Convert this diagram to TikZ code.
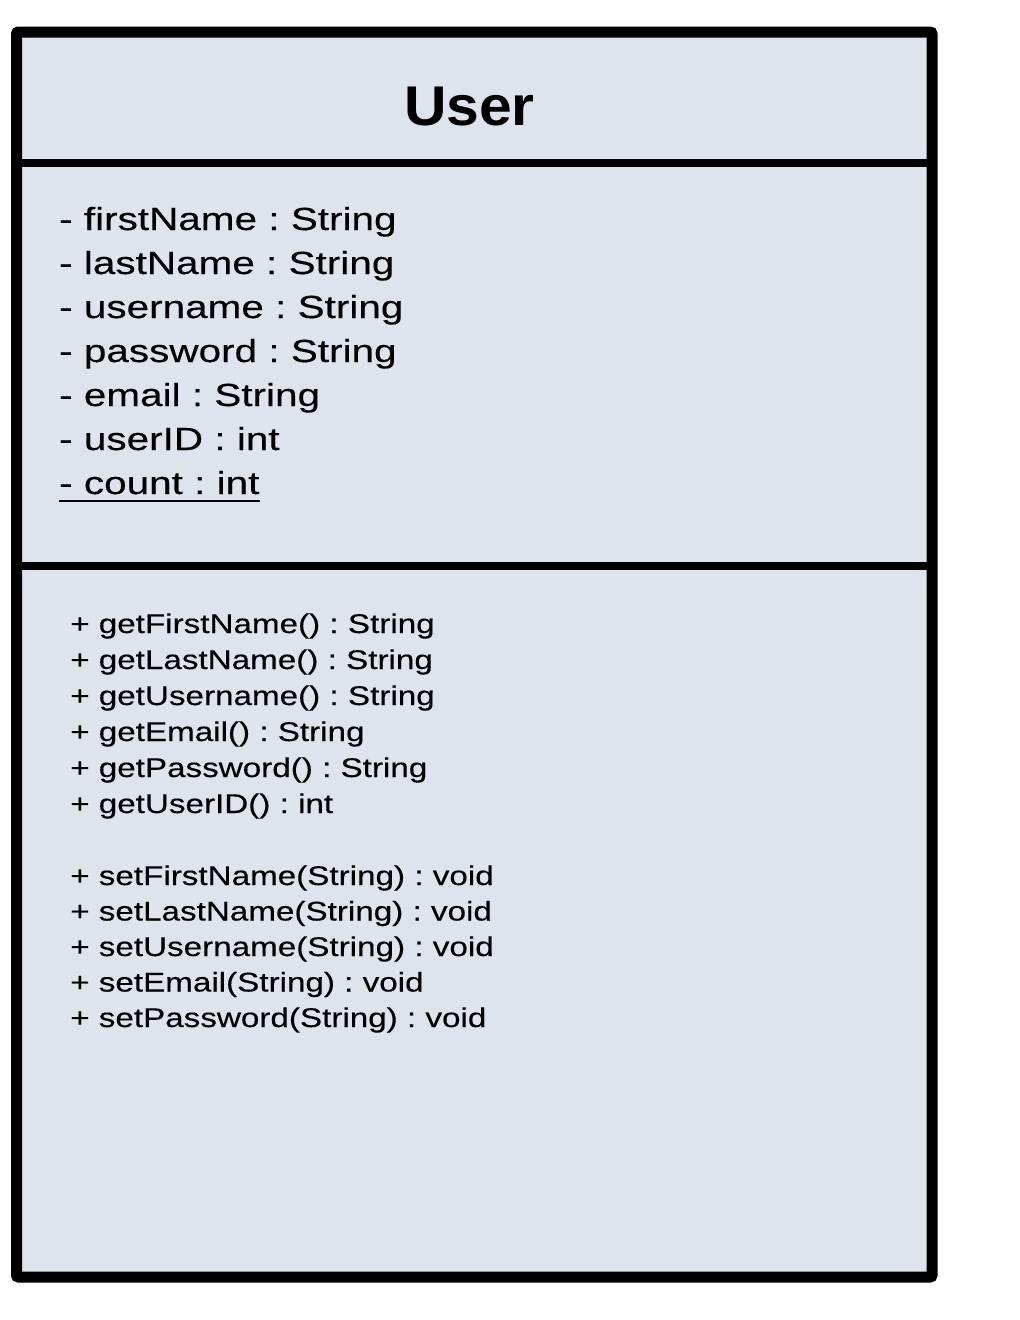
\documentclass[tikz,border=0pt]{standalone}
\usepackage{fontspec}
\setmainfont{Liberation Sans}
\newfontfamily\titlefont[FakeStretch=1.05]{Liberation Sans Bold}
\newfontfamily\attrfont[FakeStretch=1.265,FakeBold=0.3]{Liberation Sans}
\newfontfamily\methfont[FakeStretch=1.23,FakeBold=0.3]{Liberation Sans}
\definecolor{boxfill}{RGB}{221,228,238}
\frenchspacing
\tikzset{
  titletext/.style={inner sep=0pt, anchor=base, font=\titlefont\fontsize{56}{60}\selectfont},
  attrtext/.style={inner sep=0pt, anchor=base west, font=\attrfont\fontsize{32}{44}\selectfont\frenchspacing},
  methtext/.style={inner sep=0pt, anchor=base west, font=\methfont\fontsize{27}{36}\selectfont\frenchspacing},
  divider/.style={line width=8pt},
  frame/.style={line width=11pt, rounded corners=2pt},
}
\begin{document}
\begin{tikzpicture}[x=1pt, y=-1pt]
\useasboundingbox (0,0) rectangle (1020,1320);
% box background
\fill[boxfill] (16.5,32) rectangle (932,1277);
% dividers
\coordinate (d1l) at (16.5,163);
\coordinate (d1r) at (932,163);
\coordinate (d2l) at (16.5,565.5);
\coordinate (d2r) at (932,565.5);
\draw[divider] (d1l) -- (d1r);
\draw[divider] (d2l) -- (d2r);
% frame
\draw[frame] (16.5,32) rectangle (932,1277);
% title
\node[titletext] (title) at (469.5,125) {User};
% attributes
\node[attrtext] (a1) at (59,230) {- firstName : String};
\node[attrtext] (a2) at (59,274) {- lastName : String};
\node[attrtext] (a3) at (59,318) {- username : String};
\node[attrtext] (a4) at (59,362) {- password : String};
\node[attrtext] (a5) at (59,406) {- email : String};
\node[attrtext] (a6) at (59,450) {- userID : int};
\node[attrtext] (a7) at (59,494) {- count : int};
\draw[line width=2pt] ([yshift=-6.5pt]a7.base west) -- ([yshift=-6.5pt]a7.base east);
% methods
\node[methtext] (m1) at (70,633) {+ getFirstName() : String};
\node[methtext] (m2) at (70,669) {+ getLastName() : String};
\node[methtext] (m3) at (70,705) {+ getUsername() : String};
\node[methtext] (m4) at (70,741) {+ getEmail() : String};
\node[methtext] (m5) at (70,777) {+ getPassword() : String};
\node[methtext] (m6) at (70,813) {+ getUserID() : int};
\node[methtext] (m7) at (70,885) {+ setFirstName(String) : void};
\node[methtext] (m8) at (70,920.5) {+ setLastName(String) : void};
\node[methtext] (m9) at (70,956) {+ setUsername(String) : void};
\node[methtext] (m10) at (70,991.5) {+ setEmail(String) : void};
\node[methtext] (m11) at (70,1027) {+ setPassword(String) : void};
\end{tikzpicture}
\end{document}
